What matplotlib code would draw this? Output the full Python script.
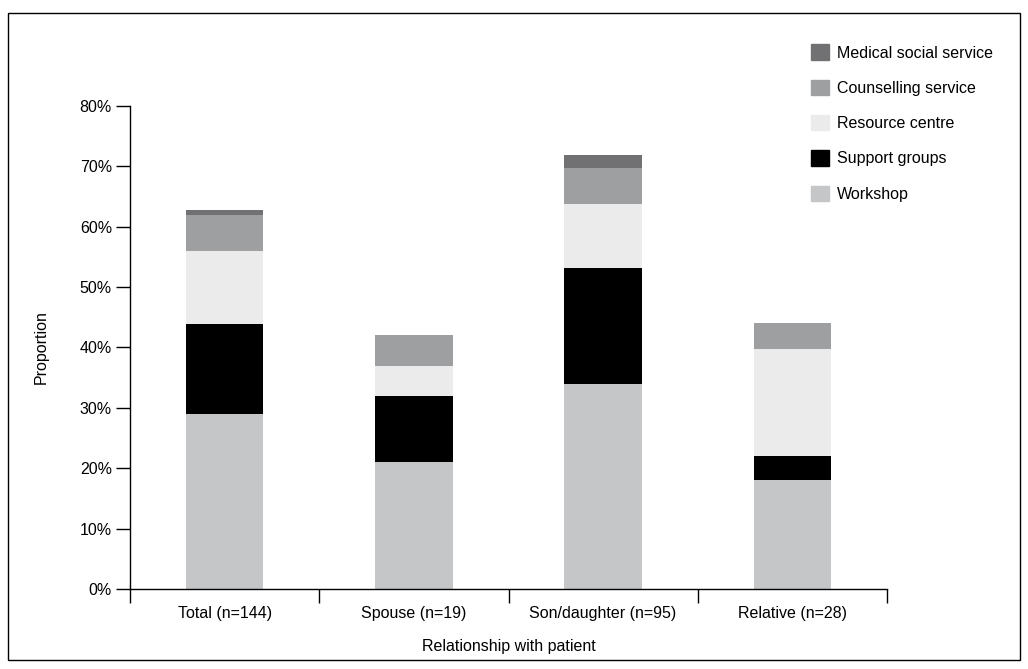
import matplotlib.pyplot as plt
import numpy as np
from matplotlib.patches import Rectangle, Patch

plt.rcParams['font.family'] = ['Liberation Sans', 'DejaVu Sans']

categories = ['Total (n=144)', 'Spouse (n=19)', 'Son/daughter (n=95)', 'Relative (n=28)']
series = ['Workshop', 'Support groups', 'Resource centre', 'Counselling service', 'Medical social service']
workshop = [28.9, 21.1, 34.0, 18.1]
support = [15.0, 10.8, 19.1, 4.0]
resource = [12.0, 5.0, 10.7, 17.7]
counselling = [6.1, 5.1, 6.0, 4.3]
medical = [0.8, 0.0, 2.0, 0.0]
colors = ['#c5c6c8', '#000000', '#ebebeb', '#9e9fa1', '#717173']

values = [workshop, support, resource, counselling, medical]

fig = plt.figure(figsize=(10.28, 6.69), dpi=100)
ax = fig.add_axes([0.1265, 0.1196, 0.7363, 0.722])

x = np.arange(len(categories))
bottom = np.zeros(len(categories))
for name, vals, c in zip(series, values, colors):
    vals = np.array(vals) / 100
    ax.bar(x, vals, 0.41, bottom=bottom, color=c, label=name, linewidth=0)
    bottom += vals

ax.set_xlim(-0.5, len(categories) - 0.5)
ax.set_ylim(0, 0.8)
ax.set_yticks(np.arange(0, 0.81, 0.1))
ax.set_yticklabels([f'{int(round(v * 100))}%' for v in np.arange(0, 0.81, 0.1)])
ax.set_xticks(x)
ax.set_xticklabels(categories)
ax.set_xticks(np.arange(-0.5, len(categories), 1), minor=True)
ax.tick_params(axis='x', which='major', length=0, pad=12, labelsize=11.5)
ax.tick_params(axis='x', which='minor', length=10, width=1, direction='out')
ax.tick_params(axis='y', length=10, width=1, labelsize=11.5, pad=3)

for s in ['top', 'right']:
    ax.spines[s].set_visible(False)
for s in ['left', 'bottom']:
    ax.spines[s].set_linewidth(1)

ax.set_ylabel('Proportion', fontsize=11.5, labelpad=22)
ax.set_xlabel('Relationship with patient', fontsize=11.5, labelpad=13)

handles = [Patch(color=c, label=n) for n, c in zip(series, colors)][::-1]
fig.legend(handles=handles, loc='upper left', bbox_to_anchor=(0.775, 0.955),
           frameon=False, fontsize=11.5, handlelength=1.1, handleheight=1.1,
           handletextpad=0.5, labelspacing=1.2)

fig.patches.append(Rectangle((0.0078, 0.0135), 0.984, 0.967, transform=fig.transFigure,
                             fill=False, edgecolor='black', linewidth=1))

fig.savefig('out.png', dpi=100)
